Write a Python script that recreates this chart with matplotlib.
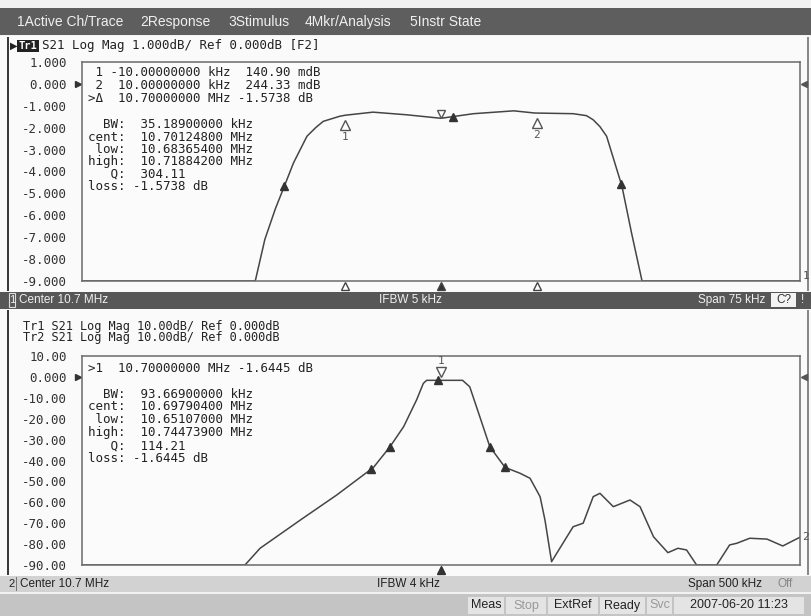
import numpy as np
import matplotlib
matplotlib.use('Agg')
import matplotlib.pyplot as plt
from matplotlib.patches import Rectangle
from matplotlib.transforms import offset_copy

# channel 1 trace, offset from 10.7 MHz in kHz (span 75 kHz), dB
top_khz = [-37.5, -19.4, -18.4, -17.3, -16.3, -15.4, -14.0, -13.1, -12.3, -10.6,
           -10.0, -7.1, -3.6, 0.0, 3.4, 7.6, 9.8, 13.8, 15.2, 15.9, 16.6, 17.3,
           18.9, 19.9, 21.0, 37.5]
top_db = [-9.0, -9.0, -7.1, -5.7, -4.6, -3.6, -2.39, -2.0, -1.71, -1.48,
          -1.43, -1.29, -1.41, -1.57, -1.36, -1.23, -1.33, -1.36, -1.45, -1.64,
          -1.95, -2.39, -4.67, -6.8, -9.0, -9.0]
top_ticks = [1, 0, -1, -2, -3, -4, -5, -6, -7, -8, -9]
top_tick_labels = ['1.000', '0.000', '-1.000', '-2.000', '-3.000', '-4.000',
                   '-5.000', '-6.000', '-7.000', '-8.000', '-9.000']
top_bw_khz = [-16.35, 1.25, 18.84]
top_mkr_khz = [-10.0, 10.0]
top_stim_khz = [-10.0, 0.0, 10.0]

# channel 2 trace, span 500 kHz
bot_khz = [-250, -136.5, -126, -98, -72.6, -47, -35.5, -26, -17, -12.3, -10,
           0, 15, 20, 27, 34, 44.6, 55, 62, 69, 72.4, 77, 92, 99, 106, 110.7,
           120, 131.6, 138.6, 148, 158, 165, 171, 178, 192, 201, 206, 215, 227,
           238, 250]
bot_db = [-90, -90, -82, -68.5, -56.5, -43.3, -33.4, -23.8, -11.0, -3.1, -1.64,
          -1.64, -1.64, -4.7, -19, -33.4, -43.3, -46.1, -48.5, -57.3, -68.5,
          -88.4, -71.7, -70, -57.3, -55.7, -62.1, -58.9, -62.1, -76.5, -84.1,
          -82, -82.8, -90, -90, -80.4, -79.6, -77.2, -77.6, -80.9, -76.7]
bot_ticks = [10, 0, -10, -20, -30, -40, -50, -60, -70, -80, -90]
bot_tick_labels = ['10.00', '0.000', '-10.00', '-20.00', '-30.00', '-40.00',
                   '-50.00', '-60.00', '-70.00', '-80.00', '-90.00']
bot_bw_khz = [-48.9, -35.5, -2.1, 34.0, 44.7]
bot_mkr_khz = [0.0]

top_info = [' 1 -10.00000000 kHz  140.90 mdB',
            ' 2  10.00000000 kHz  244.33 mdB',
            '>Δ  10.70000000 MHz -1.5738 dB']
top_stats = ['  BW:  35.18900000 kHz', 'cent:  10.70124800 MHz',
             ' low:  10.68365400 MHz', 'high:  10.71884200 MHz',
             '   Q:  304.11', 'loss: -1.5738 dB']
bot_info = ['>1  10.70000000 MHz -1.6445 dB']
bot_stats = ['  BW:  93.66900000 kHz', 'cent:  10.69790400 MHz',
             ' low:  10.65107000 MHz', 'high:  10.74473900 MHz',
             '   Q:  114.21', 'loss: -1.6445 dB']

menu = ['1Active Ch/Trace', '2Response', '3Stimulus', '4Mkr/Analysis', '5Instr State']
footer = ['Meas', 'Stop', 'ExtRef', 'Ready', 'Svc', '2007-06-20 11:23']

MONO = 'DejaVu Sans Mono'
SANS = ['Liberation Sans Narrow', 'Liberation Sans', 'DejaVu Sans']
TRACE = '#454545'

W, H = 811, 616
fig = plt.figure(figsize=(W / 100, H / 100), dpi=100)
fig.patch.set_facecolor('#f2f2f2')


def fx(x):
    return x / W


def fy(y):
    return 1 - y / H


def band(x0, y0, x1, y1, color, ec='none', lw=0, z=-1):
    fig.add_artist(Rectangle((fx(x0), fy(y1)), (x1 - x0) / W, (y1 - y0) / H,
                             transform=fig.transFigure, fc=color, ec=ec, lw=lw,
                             zorder=z))


def label(x, y, s, **kw):
    kw.setdefault('va', 'center')
    fig.text(fx(x), fy(y), s, **kw)


def trace_axes(top, bottom, xlim, ylim, ticks, labels):
    ax = fig.add_axes([fx(82), fy(bottom), (800 - 82) / W, (bottom - top) / H])
    ax.set_xlim(xlim)
    ax.set_ylim(ylim)
    ax.set_facecolor('#fbfbfb')
    ax.set_xticks([])
    ax.set_yticks(ticks)
    ax.set_yticklabels(labels, family=MONO, fontsize=9, color='#333333')
    ax.tick_params(axis='y', length=0, pad=11)
    for s in ax.spines.values():
        s.set_color('#6a6a6a')
        s.set_linewidth(1.1)
    # reference level arrows on both sides
    yt = ax.get_yaxis_transform()
    ax.plot([-0.006], [0], marker='>', color='#333333', ms=5, transform=yt, clip_on=False)
    ax.plot([1.006], [0], marker='<', color='#555555', ms=5, transform=yt, clip_on=False)
    return ax


def shifted(ax, dy):
    return offset_copy(ax.transData, fig=fig, y=dy, units='points')


# panels and frame
band(0, 36, W, 292, '#fafafa', z=-2)
band(0, 309, W, 576, '#fafafa', z=-2)
band(7, 37, 9.5, 291, '#3a3a3a')
band(7, 310, 9.5, 575, '#3a3a3a')
band(807, 37, 809, 291, '#888888')
band(807, 310, 809, 575, '#888888')

# menu bar
band(0, 8, W, 35, '#5e5e5e')
for name, x in zip(menu, [17, 140, 228, 305, 410]):
    label(x, 22, name, family=SANS, fontsize=10, color='#f0f0f0')

# channel 1
ax1 = trace_axes(62, 281, (-37.5, 37.5), (-9, 1), top_ticks, top_tick_labels)
ax1.plot(top_khz, top_db, color=TRACE, lw=1.1)
ax1.plot(top_bw_khz, np.interp(top_bw_khz, top_khz, top_db), '^', color='#333333', ms=6)
for k, f in enumerate(top_mkr_khz):
    v = np.interp(f, top_khz, top_db)
    ax1.plot(f, v, '^', mfc='white', mec='#555555', ms=7, transform=shifted(ax1, -7))
    ax1.text(f, v, str(k + 1), family=MONO, fontsize=8, color='#555555',
             ha='center', va='center', transform=shifted(ax1, -16))
ax1.plot(0, np.interp(0, top_khz, top_db), 'v', mfc='white', mec='#555555', ms=6,
         transform=shifted(ax1, 3))
for f in top_stim_khz:
    ax1.plot(f, -9, '^', mfc='#333333' if f == 0 else 'white', mec='#444444', ms=5.5,
             transform=shifted(ax1, -3.5), clip_on=False)
ax1.text(1.004, 0.0, '1', transform=ax1.transAxes, family=MONO, fontsize=8,
         color='#555555', va='bottom')

label(10, 46, '▶', fontsize=7, color='#222222')
band(17, 40, 39, 52, '#222222', z=1)
label(18.5, 46, 'Tr1', family=MONO, fontsize=7.5, color='white', weight='bold')
label(42, 46, 'S21 Log Mag 1.000dB/ Ref 0.000dB [F2]', family=MONO, fontsize=9,
      color='#222222')
for i, s in enumerate(top_info):
    label(88, 73 + 12.5 * i, s, family=MONO, fontsize=9, color='#222222')
for i, s in enumerate(top_stats):
    label(88, 125 + 12.3 * i, s, family=MONO, fontsize=9, color='#222222')

# channel 1 status bar
band(0, 292, W, 309, '#575757')
band(9, 293, 15, 307, '#575757', ec='#dddddd', lw=0.8)
label(12, 300, '1', family=SANS, fontsize=8, color='#f0f0f0', ha='center')
label(19, 300, 'Center 10.7 MHz', family=SANS, fontsize=8.5, color='#f0f0f0')
label(410, 300, 'IFBW 5 kHz', family=SANS, fontsize=8.5, color='#f0f0f0', ha='center')
label(765, 300, 'Span 75 kHz', family=SANS, fontsize=8.5, color='#f0f0f0', ha='right')
band(771, 293, 796, 307, '#f4f4f4')
label(783.5, 300, 'C?', family=SANS, fontsize=8.5, color='#333333', ha='center')
label(803, 300, '!', family=SANS, fontsize=8.5, color='#f0f0f0', ha='center')

# channel 2
ax2 = trace_axes(356, 565, (-250, 250), (-90, 10), bot_ticks, bot_tick_labels)
ax2.plot(bot_khz, bot_db, color=TRACE, lw=1.1)
ax2.plot(bot_bw_khz, np.interp(bot_bw_khz, bot_khz, bot_db), '^', color='#333333', ms=6)
for k, f in enumerate(bot_mkr_khz):
    v = np.interp(f, bot_khz, bot_db)
    ax2.plot(f, v, 'v', mfc='white', mec='#555555', ms=7, transform=shifted(ax2, 6))
    ax2.text(f, v, str(k + 1), family=MONO, fontsize=8, color='#555555',
             ha='center', va='center', transform=shifted(ax2, 14))
ax2.plot(0, -90, '^', color='#333333', ms=5.5, transform=shifted(ax2, -3.5), clip_on=False)
ax2.text(1.003, bot_db[-1], '2', transform=ax2.get_yaxis_transform(), family=MONO,
         fontsize=8, color='#555555', va='center')

label(23, 326.5, 'Tr1 S21 Log Mag 10.00dB/ Ref 0.000dB', family=MONO, fontsize=8.6,
      color='#222222')
label(23, 338, 'Tr2 S21 Log Mag 10.00dB/ Ref 0.000dB', family=MONO, fontsize=8.6,
      color='#222222')
for i, s in enumerate(bot_info):
    label(88, 369, s, family=MONO, fontsize=9, color='#222222')
for i, s in enumerate(bot_stats):
    label(88, 394 + 12.9 * i, s, family=MONO, fontsize=9, color='#222222')

# channel 2 status bar
band(0, 576, W, 592, '#d2d2d2')
label(12, 584, '2', family=SANS, fontsize=8, color='#222222', ha='center')
band(16, 577, 16.8, 591, '#777777')
label(20, 584, 'Center 10.7 MHz', family=SANS, fontsize=8.5, color='#222222')
label(408, 584, 'IFBW 4 kHz', family=SANS, fontsize=8.5, color='#222222', ha='center')
label(762, 584, 'Span 500 kHz', family=SANS, fontsize=8.5, color='#222222', ha='right')
label(785, 584, 'Off', family=SANS, fontsize=8.5, color='#888888', ha='center')

# footer
band(0, 594, W, 616, '#c4c4c4')
edges = [468, 506, 548, 600, 647, 674, 806]
for i, s in enumerate(footer):
    band(edges[i], 597, edges[i + 1] - 2, 614, '#e4e4e4')
    label((edges[i] + edges[i + 1] - 2) / 2, 605.5, s, family=SANS, fontsize=9,
          color='#999999' if s in ('Stop', 'Svc') else '#222222', ha='center')

fig.savefig('out.png', dpi=100, facecolor=fig.get_facecolor())
